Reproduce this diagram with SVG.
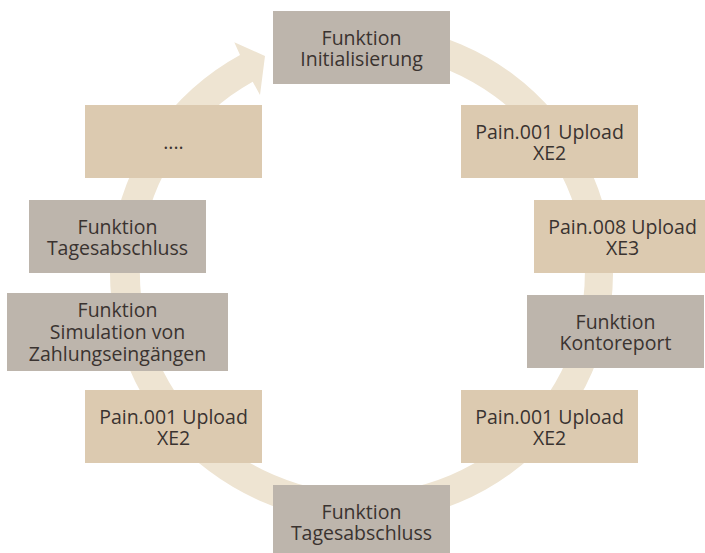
<svg xmlns="http://www.w3.org/2000/svg" width="705" height="553" viewBox="0 0 705 553">
  <style>
    .ring { fill: #EEE4D2; }
    .tan { fill: #DCCAB0; }
    .gray { fill: #BDB5AC; }
    text { font-family: "Open Sans", "Noto Sans", sans-serif; font-size: 19.5px; fill: #3A3330; text-anchor: middle; }
  </style>
  <rect width="705" height="553" fill="#FFFFFF"/>
  <g id="connectors">
    <path class="ring" d="M 405.2 27.8 A 251.5 249 0 1 1 240 55 L 234.3 42.3 L 265 56 L 260 95 L 252.7 81.7 A 222.5 220 0 1 0 400.1 56.3 Z"/>
  </g>
  <g id="n-init">
    <rect class="gray" x="273" y="11" width="177" height="73"/>
    <text x="361.5" y="45">Funktion</text>
    <text x="361.5" y="66">Initialisierung</text>
  </g>
  <g id="n-pain001-a">
    <rect class="tan" x="461" y="105" width="177" height="73"/>
    <text x="549.5" y="139">Pain.001 Upload</text>
    <text x="549.5" y="160">XE2</text>
  </g>
  <g id="n-pain008">
    <rect class="tan" x="534" y="200" width="177" height="73"/>
    <text x="622.5" y="234">Pain.008 Upload</text>
    <text x="622.5" y="255">XE3</text>
  </g>
  <g id="n-kontoreport">
    <rect class="gray" x="527" y="295" width="177" height="73"/>
    <text x="615.5" y="329">Funktion</text>
    <text x="615.5" y="350">Kontoreport</text>
  </g>
  <g id="n-pain001-b">
    <rect class="tan" x="461" y="390" width="177" height="73"/>
    <text x="549.5" y="424">Pain.001 Upload</text>
    <text x="549.5" y="445">XE2</text>
  </g>
  <g id="n-tagesabschluss-bottom">
    <rect class="gray" x="273" y="485" width="177" height="73"/>
    <text x="361.5" y="519">Funktion</text>
    <text x="361.5" y="540">Tagesabschluss</text>
  </g>
  <g id="n-pain001-c">
    <rect class="tan" x="85" y="390" width="177" height="73"/>
    <text x="173.5" y="424">Pain.001 Upload</text>
    <text x="173.5" y="445">XE2</text>
  </g>
  <g id="n-simulation">
    <rect class="gray" x="7" y="293" width="221" height="78"/>
    <text x="117.5" y="317">Funktion</text>
    <text x="117.5" y="339">Simulation von</text>
    <text x="117.5" y="361">Zahlungseingängen</text>
  </g>
  <g id="n-tagesabschluss-left">
    <rect class="gray" x="29" y="200" width="177" height="73"/>
    <text x="117.5" y="234">Funktion</text>
    <text x="117.5" y="255">Tagesabschluss</text>
  </g>
  <g id="n-dots">
    <rect class="tan" x="85" y="105" width="177" height="73"/>
    <text x="173.5" y="149">....</text>
  </g>
</svg>
